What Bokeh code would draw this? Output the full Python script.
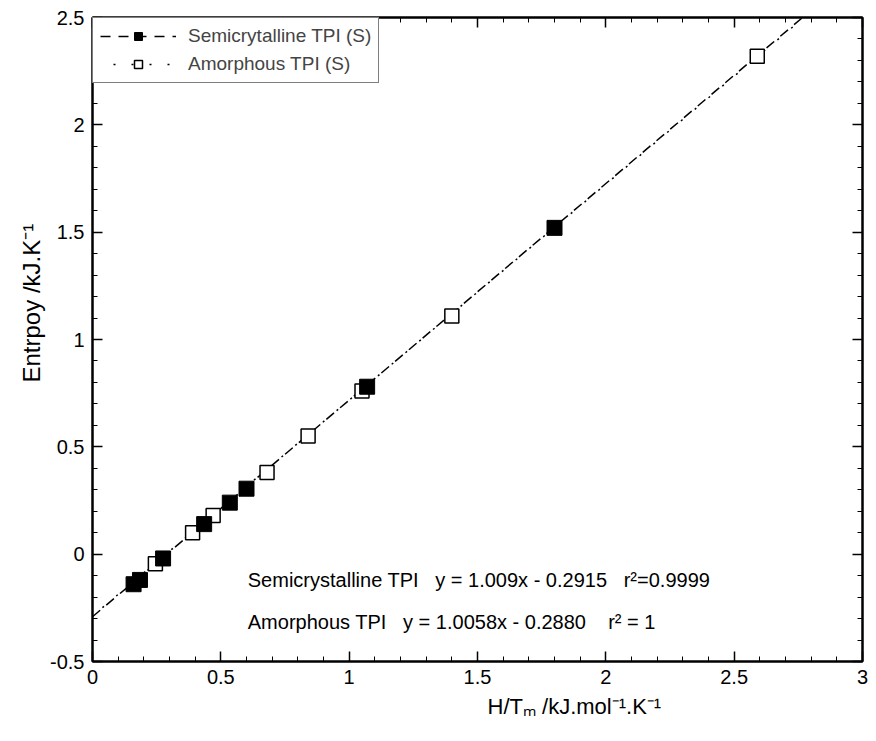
from bokeh.plotting import figure
from bokeh.models import (LinearAxis, Label, Legend, LegendItem, FixedTicker,
                          Range1d, CustomLabelingPolicy, Title)
from bokeh.embed import file_html
from bokeh.resources import INLINE

# ---- data ----
semi_x = [0.16, 0.185, 0.275, 0.435, 0.535, 0.60, 1.07, 1.80]
semi_y = [-0.14, -0.12, -0.02, 0.14, 0.24, 0.305, 0.78, 1.52]
amor_x = [0.245, 0.39, 0.47, 0.68, 0.84, 1.05, 1.40, 2.59]
amor_y = [-0.045, 0.10, 0.18, 0.38, 0.55, 0.76, 1.11, 2.32]

semi_slope, semi_icpt = 1.009, -0.2915
amor_slope, amor_icpt = 1.0058, -0.2880
fit_x = [0.0, 3.0]

x_ticks = [0, 0.5, 1, 1.5, 2, 2.5, 3]
x_tick_labels = ["0", "0.5", "1", "1.5", "2", "2.5", "3"]
y_ticks = [-0.5, 0, 0.5, 1, 1.5, 2, 2.5]
y_tick_labels = ["-0.5", "0", "0.5", "1", "1.5", "2", "2.5"]
x_minor = [i / 10 for i in range(0, 31)]
y_minor = [i / 10 for i in range(-5, 26)]

semi_label = "Semicrytalline TPI (S)"
amor_label = "Amorphous TPI (S)"
semi_note = "Semicrystalline TPI\u00a0\u00a0\u00a0y = 1.009x - 0.2915\u00a0\u00a0\u00a0r\u00b2=0.9999"
amor_note = "Amorphous TPI\u00a0\u00a0\u00a0y = 1.0058x - 0.2880\u00a0\u00a0\u00a0\u00a0r\u00b2 = 1"
x_title = "H/T\u2098 /kJ.mol\u207b\u00b9.K\u207b\u00b9"
y_title = "Entrpoy  /kJ.K\u207b\u00b9"

FONT = "Liberation Sans"

p = figure(width=876, height=741, x_range=Range1d(0, 3), y_range=Range1d(-0.5, 2.5),
           output_backend="svg", toolbar_location=None,
           min_border_left=92, min_border_right=14, min_border_top=17,
           min_border_bottom=80)
p.grid.visible = False
p.outline_line_color = "black"
p.outline_line_width = 2
p.background_fill_color = "white"
p.border_fill_color = "white"

semi_fit_y = [semi_slope * x + semi_icpt for x in fit_x]
amor_fit_y = [amor_slope * x + amor_icpt for x in fit_x]

semi_line = p.line(fit_x, semi_fit_y, line_color="black", line_width=1.5,
                   line_dash="10 8")
amor_line = p.line(fit_x, amor_fit_y, line_color="black", line_width=1.5,
                   line_dash="0 13 2 3")
amor_pts = p.scatter(amor_x, amor_y, marker="square", size=14,
                     fill_color="white", line_color="black", line_width=1.5)
semi_pts = p.scatter(semi_x, semi_y, marker="square", size=15,
                     fill_color="black", line_color="black")

bottom_ax = p.below[0]
left_ax = p.left[0]

bottom_ax.ticker = FixedTicker(ticks=x_ticks, minor_ticks=x_minor)
left_ax.ticker = FixedTicker(ticks=y_ticks, minor_ticks=y_minor)
bottom_ax.major_label_overrides = dict(zip(x_ticks, x_tick_labels))
left_ax.major_label_overrides = dict(zip(y_ticks, y_tick_labels))

no_labels = "const all = [...indices]; for (const i of all) indices.unset(i); return indices"
top_ax = LinearAxis(ticker=FixedTicker(ticks=x_ticks, minor_ticks=x_minor),
                    major_label_policy=CustomLabelingPolicy(code=no_labels))
right_ax = LinearAxis(ticker=FixedTicker(ticks=y_ticks, minor_ticks=y_minor),
                      major_label_policy=CustomLabelingPolicy(code=no_labels))
p.add_layout(top_ax, "above")
p.add_layout(right_ax, "right")

for ax in [bottom_ax, left_ax, top_ax, right_ax]:
    ax.axis_line_width = 2
    ax.axis_line_color = "black"
    ax.major_tick_in = 10
    ax.major_tick_out = 0
    ax.minor_tick_in = 5
    ax.minor_tick_out = 0
    ax.major_tick_line_width = 1.5
    ax.minor_tick_line_width = 1
    ax.major_tick_line_color = "black"
    ax.minor_tick_line_color = "black"
    ax.major_label_text_font = FONT
    ax.major_label_text_font_size = "20px"
    ax.major_label_text_color = "black"

for ax in [top_ax, right_ax]:
    ax.major_label_text_font_size = "1px"
    ax.major_label_standoff = 0

bottom_ax.major_label_standoff = 8
left_ax.major_label_standoff = 8

# axis titles, shifted along the axis like the reference
p.add_layout(Title(text=x_title, align="left", offset=395, standoff=10,
                   text_font=FONT, text_font_size="22px", text_font_style="normal",
                   text_color="black"), "below")
p.add_layout(Title(text=y_title, align="left", offset=279, standoff=6,
                   text_font=FONT, text_font_size="24px", text_font_style="normal",
                   text_color="black"), "left")

legend = Legend(items=[LegendItem(label=semi_label, renderers=[semi_line, semi_pts]),
                       LegendItem(label=amor_label, renderers=[amor_line, amor_pts])],
                location="top_left", margin=0, padding=7, spacing=6,
                glyph_width=76, glyph_height=20, label_standoff=12,
                label_text_font=FONT, label_text_font_size="19px",
                border_line_color="black", border_line_width=1,
                background_fill_alpha=1.0)
p.add_layout(legend)

p.add_layout(Label(x=0.605, y=-0.121, text=semi_note, text_font=FONT,
                   text_font_size="20px", text_baseline="middle", text_color="black"))
p.add_layout(Label(x=0.605, y=-0.317, text=amor_note, text_font=FONT,
                   text_font_size="20px", text_baseline="middle", text_color="black"))

open("out.html", "w").write(file_html(p, INLINE))
